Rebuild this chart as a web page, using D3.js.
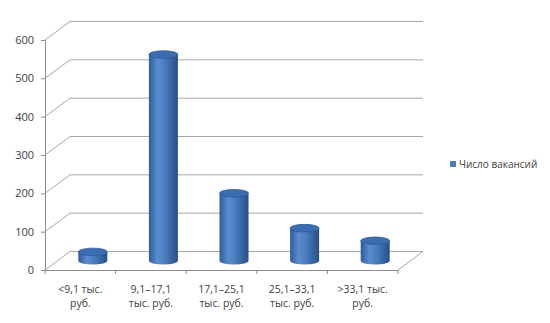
<!DOCTYPE html>
<html>
<head>
<meta charset="utf-8">
<script src="https://cdn.jsdelivr.net/npm/d3@7"></script>
<style>
  body { margin: 0; background: #fff; }
  text { font-family: "Open Sans", sans-serif; fill: #404040; }
</style>
</head>
<body>
<svg id="chart" width="550" height="323"></svg>
<script>
// chart data
var categories = ['<9,1 тыс.|руб.', '9,1–17,1|тыс. руб.', '17,1–25,1|тыс. руб.', '25,1–33,1|тыс. руб.', '>33,1 тыс.|руб.'];
var vacancies = [23, 538, 176, 85, 52];
var yTicks = [0, 100, 200, 300, 400, 500, 600];
var seriesName = 'Число вакансий';

var svg = d3.select('#chart');
var depthX = 25, depthY = -18.5;

var x = d3.scaleBand().domain(categories).range([45, 398]);
var y = d3.scaleLinear().domain([0, 600]).range([270, 40]);

var defs = svg.append('defs');
var grad = defs.append('linearGradient').attr('id', 'cyl');
grad.append('stop').attr('offset', '0%').attr('stop-color', '#2d5c99');
grad.append('stop').attr('offset', '30%').attr('stop-color', '#5a8dd0');
grad.append('stop').attr('offset', '55%').attr('stop-color', '#4a7cc0');
grad.append('stop').attr('offset', '100%').attr('stop-color', '#264f86');

// back gridlines with depth diagonals
var grid = svg.append('g');
yTicks.forEach(function(t) {
  grid.append('line')
    .attr('x1', x.range()[0]).attr('y1', y(t))
    .attr('x2', x.range()[0] + depthX).attr('y2', y(t) + depthY)
    .attr('stroke', '#a6a6a6');
  grid.append('line')
    .attr('x1', x.range()[0] + depthX).attr('y1', y(t) + depthY)
    .attr('x2', x.range()[1] + depthX).attr('y2', y(t) + depthY)
    .attr('stroke', '#a6a6a6');
});

// floor
grid.append('line')
  .attr('x1', x.range()[1]).attr('y1', y(0))
  .attr('x2', x.range()[1] + depthX).attr('y2', y(0) + depthY)
  .attr('stroke', '#a6a6a6');

// cylinders
var rx = 14.5, ry = 3.8;
var bars = svg.append('g').selectAll('g')
  .data(categories.map(function(c, i) { return { cat: c, value: vacancies[i] }; }))
  .join('g');

bars.append('path')
  .attr('fill', 'url(#cyl)')
  .attr('d', function(d) {
    var cx = x(d.cat) + x.bandwidth() / 2 + depthX / 2;
    var base = y(0) + depthY / 2, top = y(d.value) + depthY / 2;
    return 'M' + (cx - rx) + ',' + top + 'L' + (cx - rx) + ',' + base +
      'A' + rx + ',' + ry + ' 0 0 0 ' + (cx + rx) + ',' + base +
      'L' + (cx + rx) + ',' + top + 'Z';
  });

bars.append('ellipse')
  .attr('cx', function(d) { return x(d.cat) + x.bandwidth() / 2 + depthX / 2; })
  .attr('cy', function(d) { return y(d.value) + depthY / 2; })
  .attr('rx', rx).attr('ry', ry)
  .attr('fill', '#3c6db0')
  .attr('stroke', '#2f5d9a')
  .attr('stroke-width', 0.8);

// y axis
var yAxis = svg.append('g')
  .attr('transform', 'translate(' + x.range()[0] + ',0)')
  .call(d3.axisLeft(y).tickValues(yTicks).tickSize(4).tickPadding(7));
yAxis.select('.domain').attr('stroke', '#8c8c8c');
yAxis.selectAll('.tick line').attr('stroke', '#8c8c8c');
yAxis.selectAll('text').style('font-size', '11px').attr('fill', '#404040');

// x axis
var xAxis = svg.append('g')
  .attr('transform', 'translate(0,' + y(0) + ')')
  .call(d3.axisBottom(x).tickSize(0).tickFormat(''));
xAxis.select('.domain').attr('stroke', '#8c8c8c');

var bounds = categories.map(function(c) { return x(c); }).concat([x.range()[1]]);
xAxis.selectAll('.bound').data(bounds).join('line')
  .attr('x1', function(d) { return d; }).attr('x2', function(d) { return d; })
  .attr('y1', 0).attr('y2', 4)
  .attr('stroke', '#8c8c8c');

// two-line category labels, one text per line
var lines = [];
categories.forEach(function(c) {
  c.split('|').forEach(function(p, i) { lines.push({ cat: c, text: p, row: i }); });
});
svg.append('g').selectAll('text').data(lines).join('text')
  .attr('text-anchor', 'middle')
  .style('font-size', '10.5px')
  .attr('x', function(d) { return x(d.cat) + x.bandwidth() / 2; })
  .attr('y', function(d) { return 293 + d.row * 14; })
  .text(function(d) { return d.text; });

// legend
var legend = svg.append('g').attr('transform', 'translate(450,161)');
legend.append('rect').attr('width', 6).attr('height', 6).attr('fill', '#4a7cbf');
legend.append('text').attr('x', 9).attr('y', 7).style('font-size', '10px').text(seriesName);
</script>
</body>
</html>
